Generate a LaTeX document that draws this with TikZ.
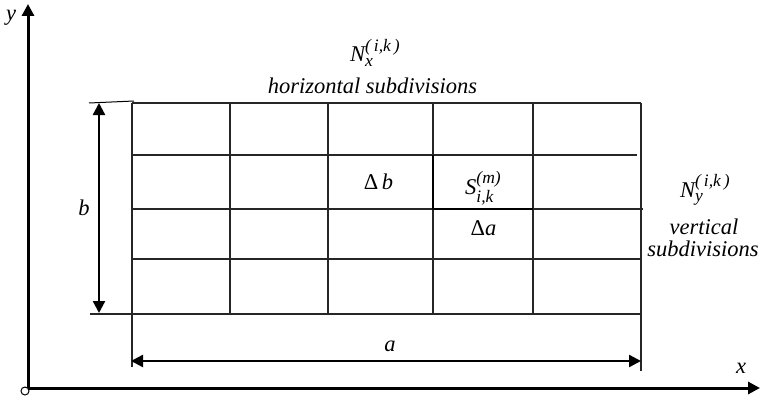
\documentclass[tikz,border=0pt]{standalone}
\usepackage{amsmath}
\usepackage{fontspec}
\setmainfont{Liberation Serif}
\usetikzlibrary{arrows.meta}
\newcommand{\scrf}{\fontsize{17.5}{17.5}\selectfont\itshape}
\newcommand{\subsup}[3]{\textit{#1}$^{\hbox{\scrf #2}}_{\hbox{\scrf #3}}$}
\tikzset{
  axis/.style={line width=3pt,-{Triangle[length=12pt,width=12pt]}},
  dimline/.style={line width=2.4pt,{Triangle[length=12pt,width=12pt]}-{Triangle[length=12pt,width=12pt]}},
  gridline/.style={line width=1.2pt, black!85},
  cellline/.style={line width=1.8pt, black},
  tickline/.style={line width=1pt},
  lbl/.style={inner sep=0pt, font=\fontsize{22.5}{26}\selectfont\itshape},
}
\begin{document}
\begin{tikzpicture}[x=1pt,y=-1pt]
\useasboundingbox (0,0) rectangle (761,396);
% grid
\draw[gridline] (132,103) -- (641,103);
\draw[gridline] (132,155) -- (637,155);
\draw[gridline] (132,209) -- (643,209);
\draw[gridline] (132,259) -- (641,259);
\draw[gridline] (90,314) -- (641,314);
\draw[gridline] (132,103) -- (132,367);
\draw[gridline] (230,103) -- (230,314);
\draw[gridline] (328,103) -- (328,314);
\draw[gridline] (433,103) -- (433,314);
\draw[gridline] (533,103) -- (533,314);
\draw[gridline] (641,103) -- (641,371);
\draw[cellline] (433,155) -- (433,209) -- (533,209);
\draw[tickline] (89,103) -- (134,101);
% axes
\coordinate (O) at (28,388);
\coordinate (Ytip) at (28,4);
\coordinate (Xtip) at (760,388);
\draw[axis] (O) -- (Ytip);
\draw[axis] (O) -- (Xtip);
\draw[line width=1pt, fill=white] (25,391) circle (4);
% dimension arrows
\coordinate (bt) at (99,103);
\coordinate (bb) at (99,313);
\draw[dimline] (bt) -- (bb);
\coordinate (al) at (131,361);
\coordinate (ar) at (641,361);
\draw[dimline] (al) -- (ar);
% labels
\node[lbl] (ylab) at (11,18) {y};
\node[lbl] (xlab) at (741,368) {x};
\node[lbl] (blab) at (84,208) {b};
\node[lbl] (alab) at (390,346) {a};
\node[lbl, anchor=base] (db) at (378.5,189) {\upshape Δ\,\itshape b};
\node[lbl, anchor=base west] (S) at (465,194) {\subsup{S}{(m)}{i,k}};
\node[lbl, anchor=base] (da) at (483.5,235) {\upshape Δ\itshape a};
\node[lbl, anchor=base west] (Nx) at (350,62) {\subsup{N}{(\,i,k\,)}{x}};
\node[lbl, anchor=base] (hs) at (372.5,93) {horizontal subdivisions};
\node[lbl, anchor=base west] (Ny) at (680,197) {\subsup{N}{(\,i,k\,)}{y}};
\node[lbl, anchor=base] (vt) at (704,234) {vertical};
\node[lbl, anchor=base] (sd) at (703,256) {subdivisions};
\end{tikzpicture}
\end{document}
